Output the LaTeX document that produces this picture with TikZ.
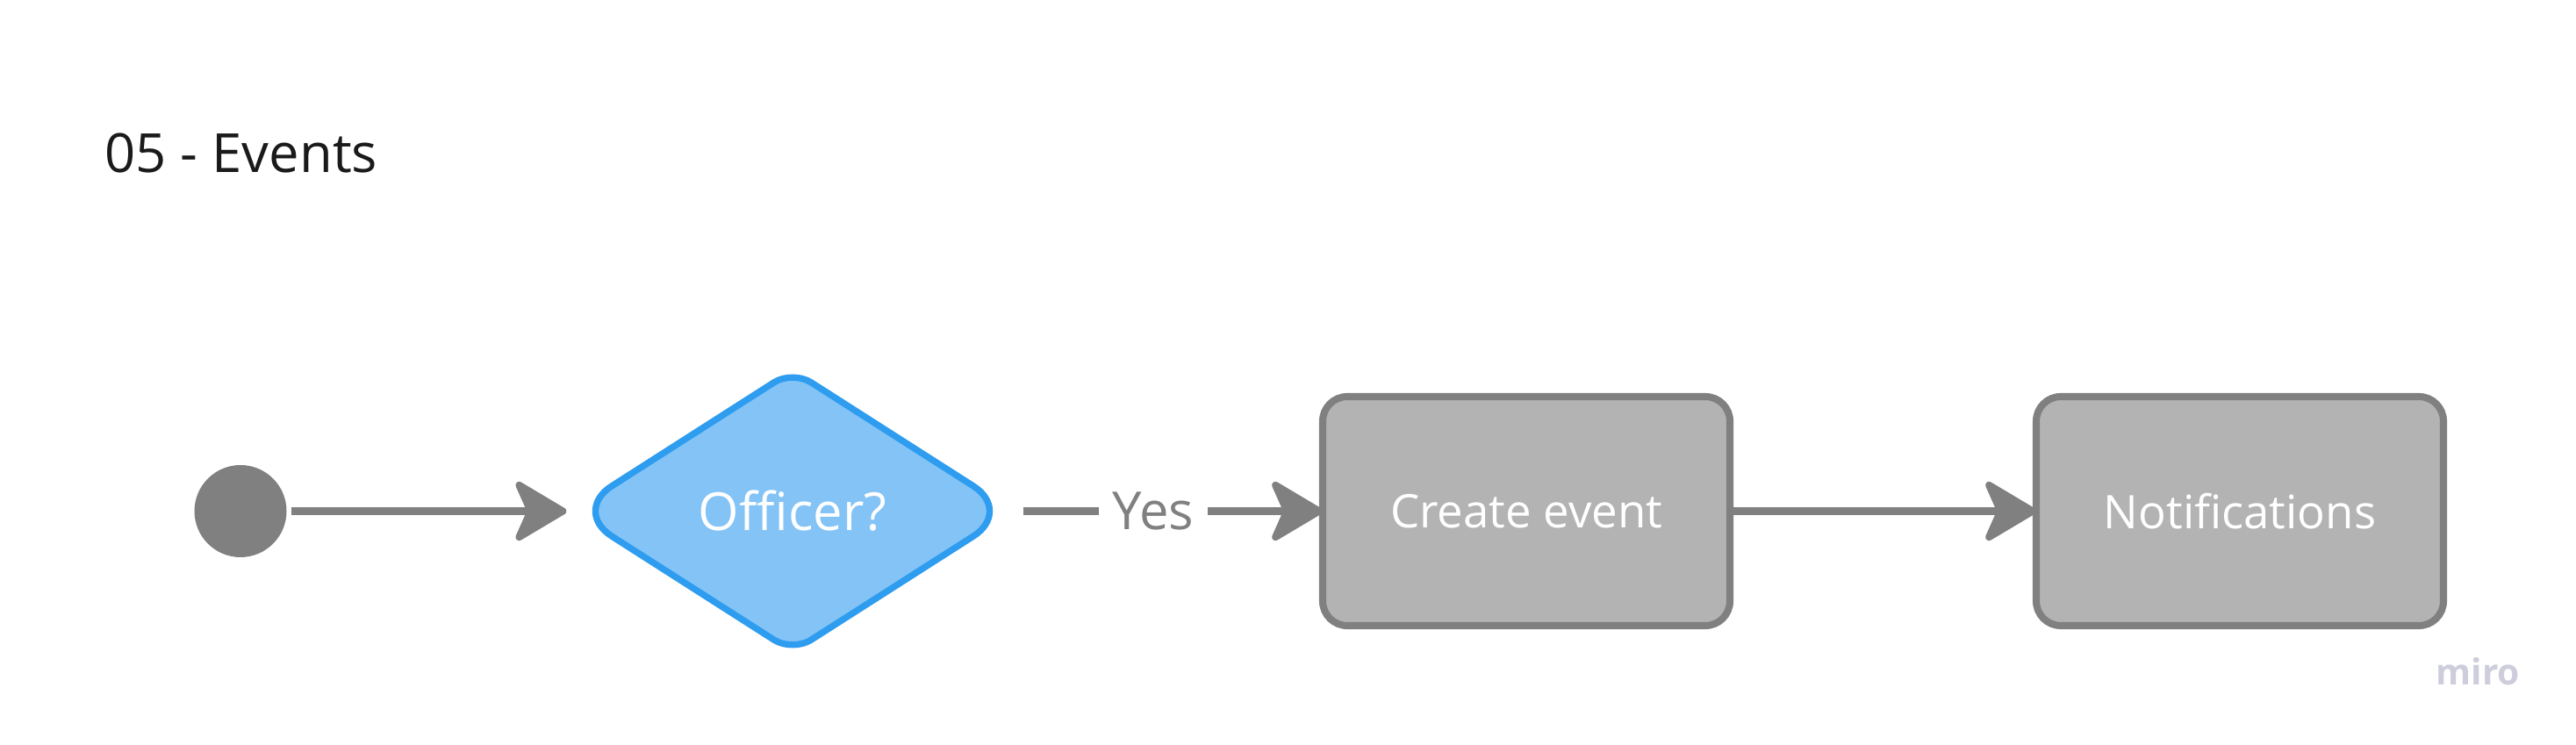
\documentclass[tikz,border=0pt]{standalone}
\usepackage{fontspec}
\setmainfont{Open Sans}
\usetikzlibrary{shapes.geometric,arrows.meta,backgrounds,calc}

\begin{document}
\begin{tikzpicture}[
    flow/.style={draw=line_grey, line width=2.3pt, -{Stealth[length=0.66cm,width=0.78cm,inset=0.17cm,round]}},
    task/.style={draw=line_grey, fill=task_grey, line width=2.3pt, rounded corners=0.28cm, outer sep=0pt,
        minimum width=4.64cm, minimum height=2.61cm, text=white, font=\fontsize{15}{18}\selectfont},
    decision/.style={diamond, inner sep=0pt, minimum width=5cm, minimum height=3.19cm,
        text=white, font=\fontsize{17}{20}\selectfont},
    decision line/.style={draw=dec_blue, fill=dec_fill, line width=2.1pt},
]
    \definecolor{line_grey}{HTML}{808080}
    \definecolor{task_grey}{HTML}{B3B3B3}
    \definecolor{dec_blue}{HTML}{2E9CEF}
    \definecolor{dec_fill}{HTML}{83C3F6}
    \definecolor{title_black}{HTML}{1A1A1A}
    \definecolor{logo_grey}{HTML}{CDCDDB}
    %\draw[help lines] (0,0) grid (29,8);
    \useasboundingbox (0,0) rectangle (29.35,8.49);

    \node[anchor=base west, inner sep=0pt, text=title_black, font=\fontsize{17.5}{21}\selectfont] (title) at (1.19,6.52) {05 - Events};

    \node[circle, fill=line_grey, minimum size=1.05cm, inner sep=0pt] (start) at (2.74,2.665) {};
    \node[decision] (officer) at (9.03,2.665) {Officer?};
    \node[task] (create) at (17.39,2.665) {Create event};
    \node[task] (notify) at (25.52,2.665) {Notifications};

    % diamond outline, sharper rounding on top and bottom
    \begin{scope}[on background layer]
        \draw[decision line] ($(officer.west)!0.5!(officer.north)$)
            [rounded corners=0.25cm] -- (officer.north)
            [rounded corners=0.53cm] -- (officer.east)
            [rounded corners=0.25cm] -- (officer.south)
            [rounded corners=0.53cm] -- (officer.west) -- cycle;
    \end{scope}

    \draw[flow, shorten <=0.045cm, shorten >=0.07cm] (start) -- (officer);
    \draw[flow, shorten <=0.12cm] (officer) -- node[pos=0.453, fill=white, inner xsep=0.16cm, text=line_grey,
        font=\fontsize{17}{20}\selectfont] (yes) {Yes} (create);
    \draw[flow] (create) -- (notify);

    \node[anchor=base west, inner sep=0pt, text=logo_grey, font=\bfseries\fontsize{11.6}{14}\selectfont] (logo) at (27.75,0.68) {miro};
\end{tikzpicture}
\end{document}
